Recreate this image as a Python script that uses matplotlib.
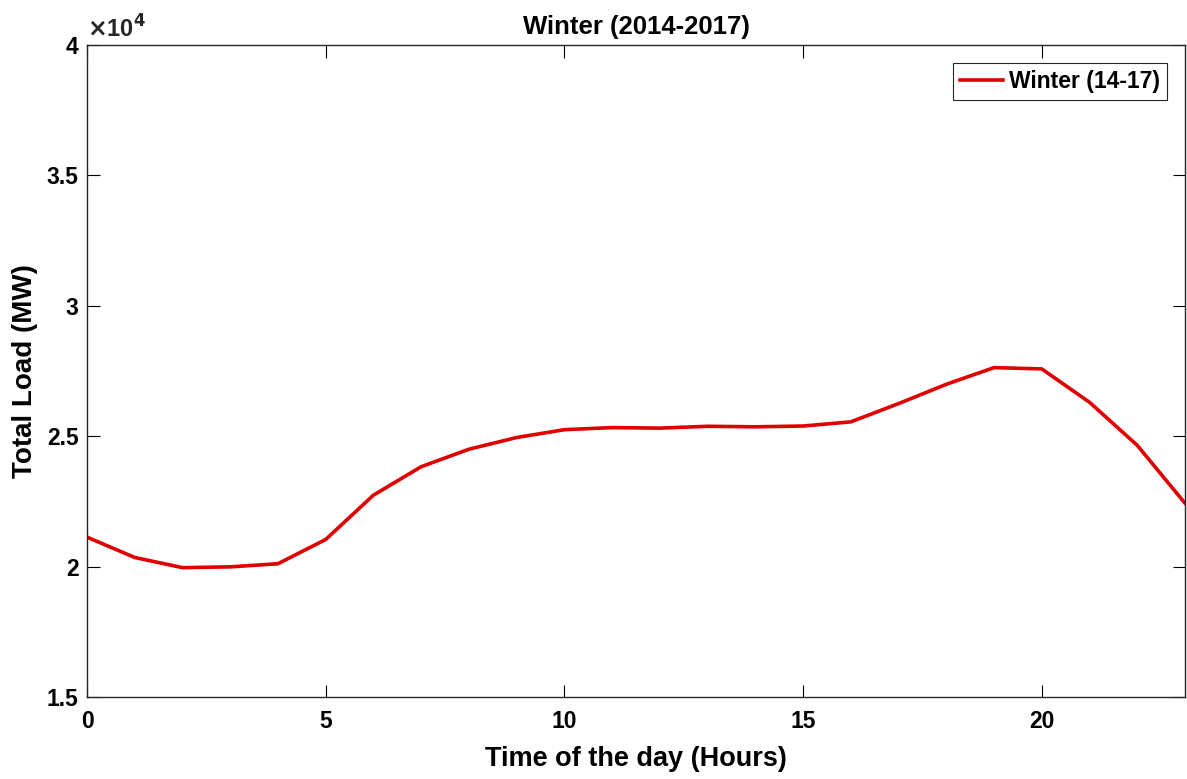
import numpy as np
import matplotlib
matplotlib.use('Agg')
import matplotlib.pyplot as plt
from matplotlib.ticker import FuncFormatter

# Hourly average load, winter 2014-2017
hours = list(range(24))
load_mw = [21130, 20350, 19960, 19990, 20110, 21040, 22740, 23830,
           24500, 24950, 25250, 25330, 25310, 25380, 25360, 25390,
           25550, 26250, 26990, 27630, 27580, 26300, 24650, 22430]
series_label = 'Winter (14-17)'
y_ticks = [15000, 20000, 25000, 30000, 35000, 40000]
x_ticks = [0, 5, 10, 15, 20]

plt.rcParams['font.family'] = ['Liberation Sans', 'DejaVu Sans']
plt.rcParams['font.weight'] = 'bold'

fig = plt.figure(figsize=(11.87, 7.79), dpi=100)
ax = fig.add_axes([87 / 1187, 1 - 697 / 779, 1098 / 1187, 652 / 779])

ax.plot(hours, load_mw, color='#e00000', linewidth=2.6, label=series_label)

ax.set_xlim(0, 23)
ax.set_ylim(15000, 40000)
ax.set_xticks(x_ticks)
ax.set_yticks(y_ticks)
ax.yaxis.set_major_formatter(FuncFormatter(lambda v, p: f'{v / 1e4:g}'))
ax.tick_params(direction='in', length=9, width=0.8, top=True, right=True,
               labelsize=16.5)
ax.tick_params(axis='x', pad=9)
ax.tick_params(axis='y', pad=6)
for lab in ax.get_xticklabels() + ax.get_yticklabels():
    lab.set_fontweight('bold')
for sp in ax.spines.values():
    sp.set_linewidth(1.0)
    sp.set_color('#262626')

ax.text(0.0, 1.004, r'$\times$10$^{4}$', transform=ax.transAxes,
        fontsize=17, fontweight='bold', ha='left', va='bottom', color='#262626')

ax.set_title('Winter (2014-2017)', fontsize=18.5, fontweight='bold', pad=8)
ax.set_xlabel('Time of the day (Hours)', fontsize=19.5, fontweight='bold', labelpad=10)
ax.set_ylabel('Total Load (MW)', fontsize=20, fontweight='bold', labelpad=6)

leg = ax.legend(loc='upper right', fontsize=16.5, fancybox=False, framealpha=1,
                edgecolor='#262626', handlelength=1.9, handletextpad=0.25,
                borderpad=0.3, borderaxespad=0.8)
leg.get_frame().set_linewidth(0.8)
for t in leg.get_texts():
    t.set_fontweight('bold')

fig.savefig('out.png', dpi=100)
